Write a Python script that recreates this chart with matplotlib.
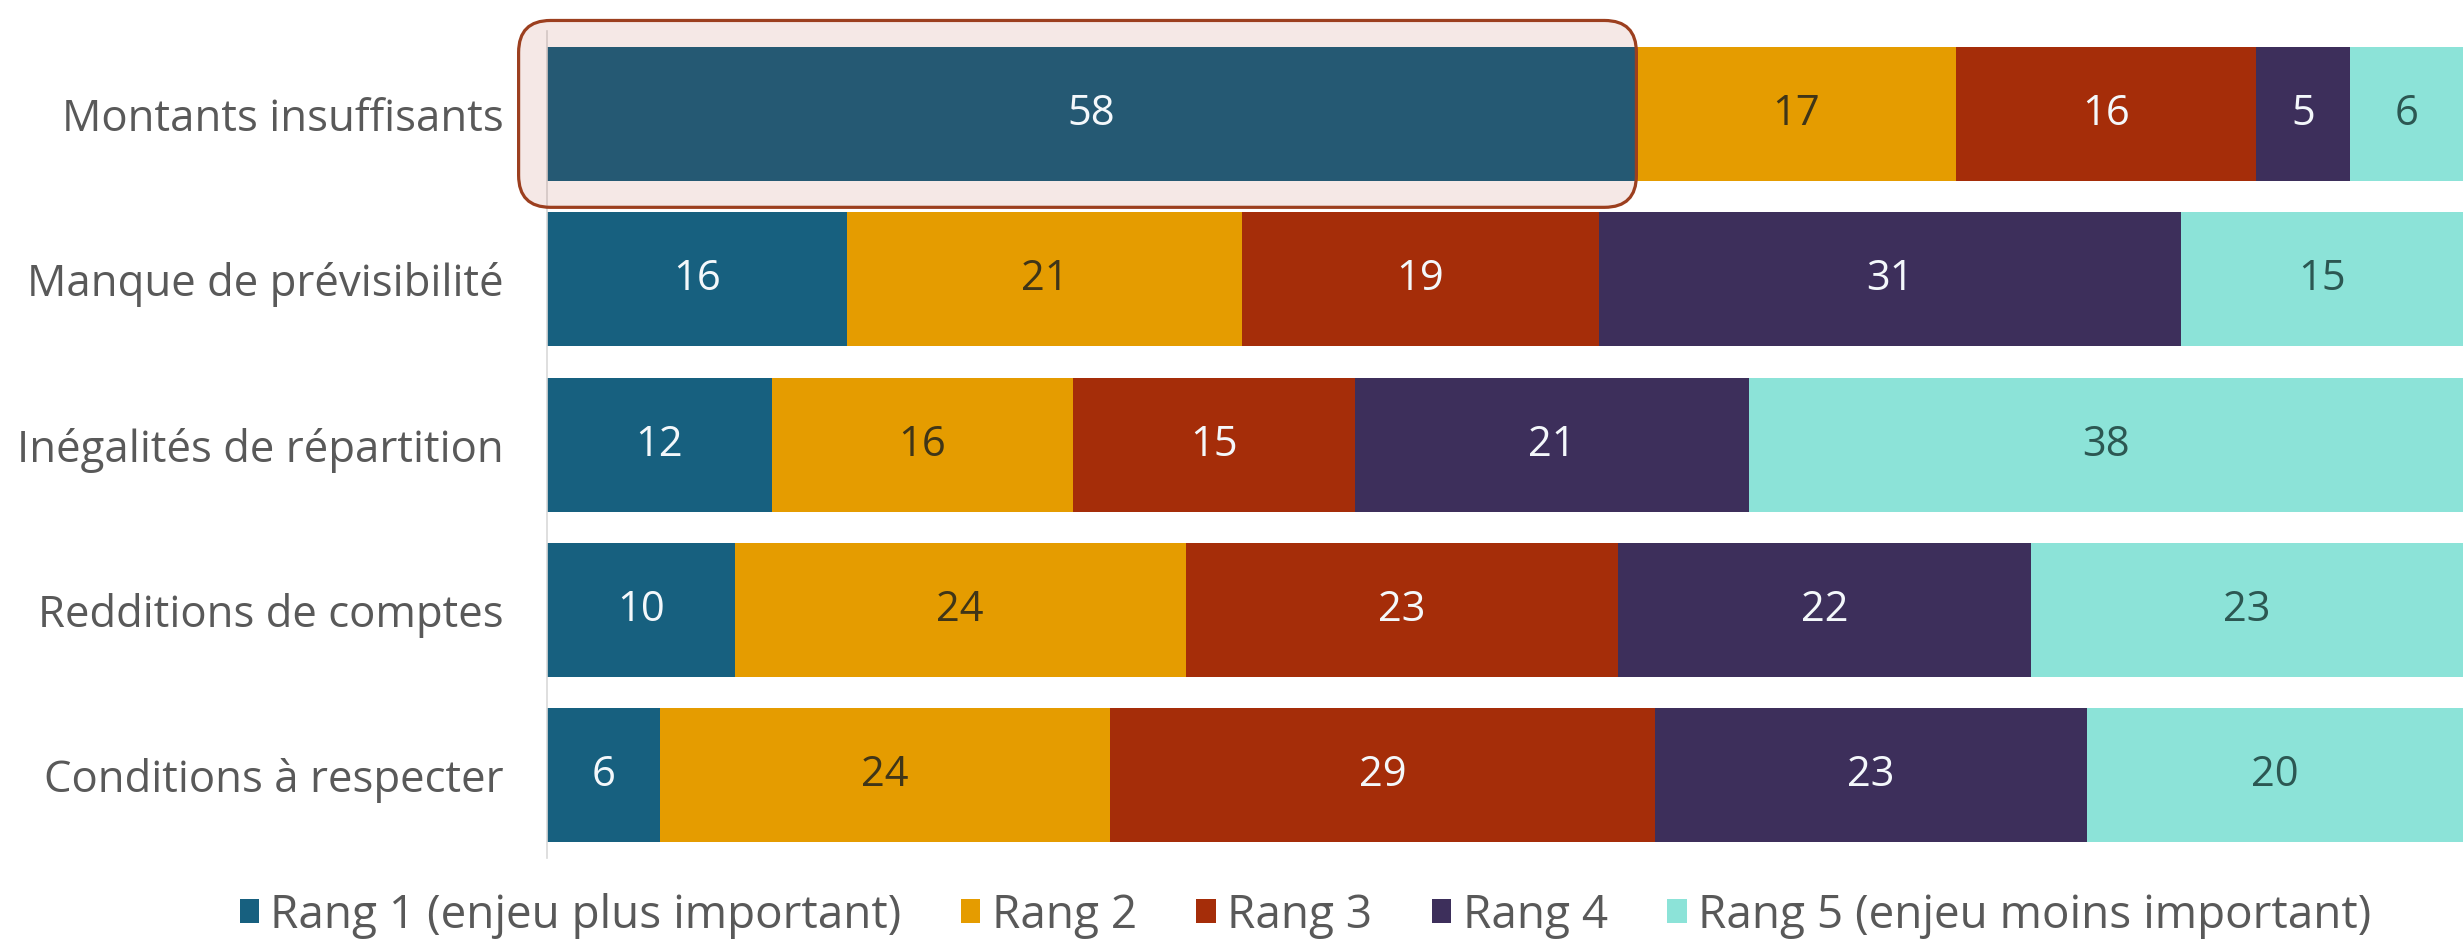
import matplotlib
matplotlib.use("Agg")
import matplotlib.pyplot as plt
from matplotlib.patches import FancyBboxPatch, Patch
import numpy as np

plt.rcParams['font.family'] = ['Open Sans', 'DejaVu Sans']

# data
categories = ['Montants insuffisants', 'Manque de prévisibilité', 'Inégalités de répartition',
              'Redditions de comptes', 'Conditions à respecter']
series_names = ['Rang 1 (enjeu plus important)', 'Rang 2', 'Rang 3', 'Rang 4',
                'Rang 5 (enjeu moins important)']
rang1 = [58, 16, 12, 10, 6]
rang2 = [17, 21, 16, 24, 24]
rang3 = [16, 19, 15, 23, 29]
rang4 = [5, 31, 21, 22, 23]
rang5 = [6, 15, 38, 23, 20]

colors = ['#17607f', '#e59c00', '#a52d09', '#3d2f5b', '#8ce3d8']
text_colors = ['#f4f8fb', '#3f3518', '#f4f8fb', '#f4f8fb', '#2c5752']

fig = plt.figure(figsize=(24.63, 9.46), dpi=100)
ax = fig.add_axes([0.222, 0.093, 0.778, 0.874])

y = np.arange(len(categories))
left = np.zeros(len(categories))
for vals, name, col, tcol in zip([rang1, rang2, rang3, rang4, rang5], series_names, colors, text_colors):
    vals = np.array(vals, dtype=float)
    bars = ax.barh(y, vals, left=left, height=0.81, color=col, label=name, zorder=2)
    for b, v in zip(bars, vals):
        ax.text(b.get_x() + b.get_width() / 2, b.get_y() + b.get_height() / 2, f"{int(v)}",
                ha='center', va='center', color=tcol, fontsize=30, zorder=5)
    left += vals

ax.set_xlim(0, 102)
ax.set_ylim(len(categories) - 0.5, -0.5)
ax.set_yticks(y)
ax.set_yticklabels(categories, fontsize=31.5, color='#595959')
ax.tick_params(axis='y', length=0, pad=31)
ax.set_xticks([])
for s in ['top', 'right', 'bottom']:
    ax.spines[s].set_visible(False)
ax.spines['left'].set_color('#d9d9d9')
ax.spines['left'].set_linewidth(1.2)

# highlight box around the first bar
p0 = ax.transData.transform((0, 0))
p1 = ax.transData.transform((1, 1))
aspect = abs((p1[0] - p0[0]) / (p1[1] - p0[1]))
box = FancyBboxPatch((-1.5, -0.565), rang1[0] + 1.5, 1.13,
                     boxstyle="round,pad=0,rounding_size=1.7", mutation_aspect=aspect,
                     facecolor=(0.64, 0.13, 0.05, 0.10), edgecolor='#9c3f1f', linewidth=2.3,
                     clip_on=False, zorder=4)
ax.add_patch(box)

handles = [Patch(facecolor=c) for c in colors]
fig.legend(handles, series_names, loc='center', bbox_to_anchor=(0.53, 0.032), ncol=5,
           frameon=False, fontsize=33, labelcolor='#595959', handlelength=0.42, handleheight=0.42,
           handletextpad=0.25, columnspacing=1.3)

fig.savefig('out.png', dpi=100, facecolor='white')
